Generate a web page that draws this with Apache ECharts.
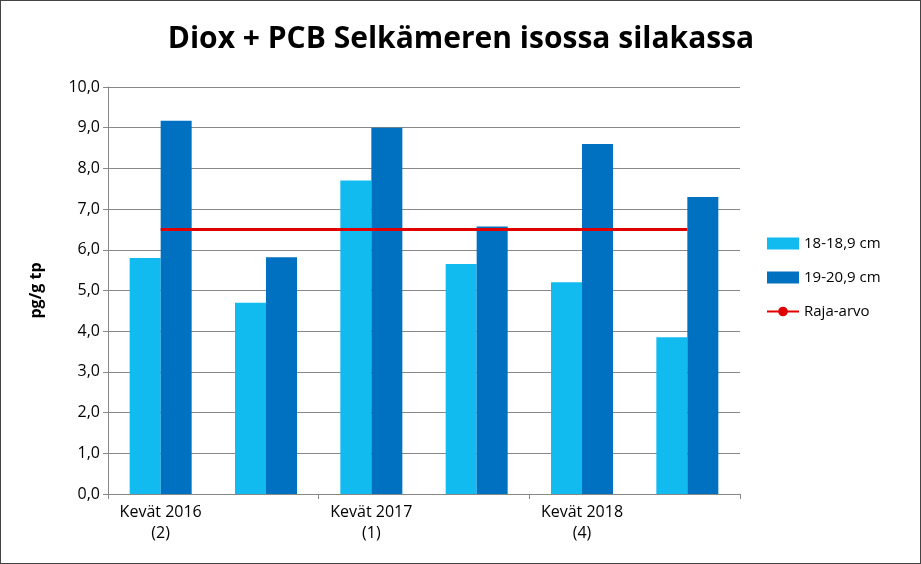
<!DOCTYPE html>
<html><head><meta charset="utf-8">
<script src="https://cdn.jsdelivr.net/npm/echarts@6/dist/echarts.min.js"></script>
<style>body{margin:0}#c{width:919px;height:562px;border:1px solid #444;}</style>
</head><body><div id="c"></div>
<script>
const categories=['Kevät 2016\n(2)','Syksy 2016\n(1)','Kevät 2017\n(1)','Syksy 2017\n(2)','Kevät 2018\n(4)','Syksy 2018\n(4)'];
const small=[5.8,4.7,7.7,5.65,5.2,3.85];
const large=[9.17,5.82,9.0,6.57,8.6,7.3];
const limit=[6.5,6.5,6.5,6.5,6.5,6.5];
const F='Open Sans';
const ch=echarts.init(document.getElementById('c'));
ch.setOption({
 animation:false,
 textStyle:{fontFamily:F},
 title:{text:'Diox + PCB Selkämeren isossa silakassa',left:455,top:18,textAlign:'center',textStyle:{fontSize:30,fontWeight:'bold',color:'#000',fontFamily:F}},
 grid:{left:107,right:180,top:86,bottom:69},
 legend:{orient:'vertical',left:760,top:230,itemGap:19,itemWidth:32,itemHeight:12,textStyle:{fontSize:15,color:'#000'},
  data:[{name:'18-18,9 cm',icon:'rect'},{name:'19-20,9 cm',icon:'rect'},{name:'Raja-arvo'}]},
 xAxis:{type:'category',data:categories,axisLine:{lineStyle:{color:'#888'}},axisTick:{show:true,lineStyle:{color:'#888'},length:5},
  axisLabel:{fontSize:16,color:'#000',lineHeight:21,margin:8}},
 yAxis:{type:'value',min:0,max:10,interval:1,name:'pg/g tp',nameLocation:'middle',nameGap:64,nameTextStyle:{fontSize:16,fontWeight:'bold',color:'#000'},
  axisLine:{show:true,lineStyle:{color:'#888'}},axisTick:{show:true,lineStyle:{color:'#888'}},
  splitLine:{lineStyle:{color:'#888'}},
  axisLabel:{fontSize:16,color:'#000',formatter:v=>v.toFixed(1).replace('.',',')}},
 series:[
  {name:'18-18,9 cm',type:'bar',data:small,barWidth:31,barGap:'0%',itemStyle:{color:'#12BBEF'}},
  {name:'19-20,9 cm',type:'bar',data:large,barWidth:31,itemStyle:{color:'#0070C0'}},
  {name:'Raja-arvo',type:'line',data:limit,symbol:'none',lineStyle:{color:'#E00000',width:3},itemStyle:{color:'#E00000'}}
 ]
});
</script></body></html>
